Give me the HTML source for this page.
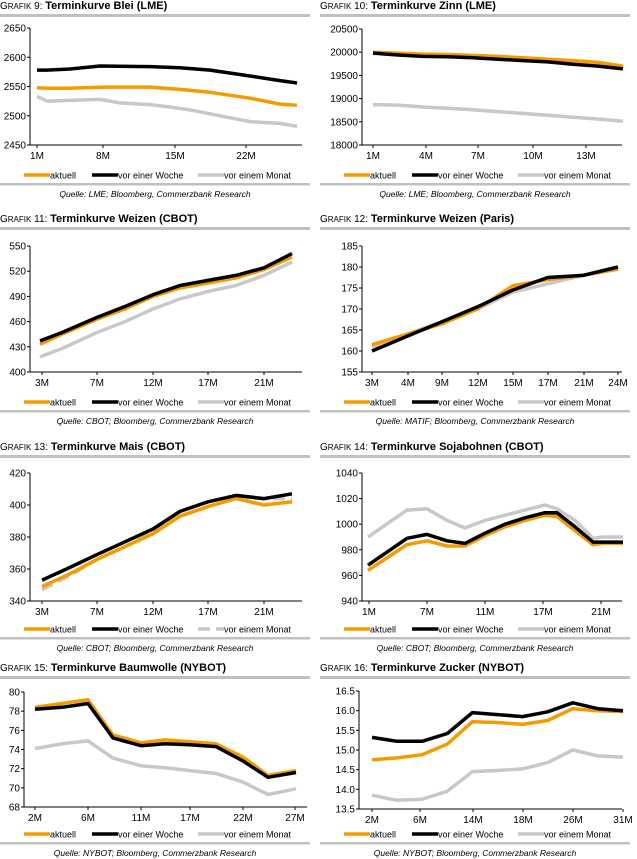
<!DOCTYPE html>
<html><head><meta charset="utf-8">
<style>
body{margin:0;background:#fff;width:637px;height:859px;overflow:hidden;font-family:"Liberation Sans",Arial,sans-serif}
svg{display:block}
</style></head><body>
<svg id="s" width="637" height="859" xmlns="http://www.w3.org/2000/svg" font-family="Liberation Sans, Arial, sans-serif"></svg>
<script>
const S=document.getElementById('s');let h='';
const OR='#f59b00',BK='#000',GR='#c8c8c8';
function chart(c){
 const X0=c.ox, top=c.oy;
 h+=`<text x="${X0}" y="${top+9}" font-size="10">G<tspan font-size="8">RAFIK</tspan> ${c.n}: <tspan font-weight="bold" font-size="11">${c.t}</tspan></text>`;
 h+=`<rect x="${X0}" y="${top+14}" width="310" height="3" fill="#c0c0c0"/>`;
 const ax=c.ax, y0=c.py0, y1=c.py1, xr=X0+(c.xr||302);
 const vy=v=>y1+(v-c.vmin)/(c.vmax-c.vmin)*(y0-y1);
 h+=`<line x1="${ax}" y1="${y0}" x2="${ax}" y2="${y1}" stroke="#000" stroke-width="1"/>`;
 h+=`<line x1="${ax}" y1="${y1}" x2="${xr}" y2="${y1}" stroke="#000" stroke-width="1"/>`;
 for(let v=c.vmin;v<=c.vmax+1e-9;v+=c.step){const y=vy(v);
  h+=`<line x1="${ax-3}" y1="${y}" x2="${ax}" y2="${y}" stroke="#000"/>`;
  h+=`<text x="${ax-4}" y="${y+3.5}" font-size="10" text-anchor="end">${c.fmt?c.fmt(v):v}</text>`;}
 c.xl.forEach(([x,l])=>{h+=`<line x1="${x}" y1="${y1}" x2="${x}" y2="${y1+3}" stroke="#000"/>`;
  h+=`<text x="${x}" y="${y1+14}" font-size="10" text-anchor="middle">${l}</text>`;});
 const ser=[[c.m,GR,c.dash],[c.a,OR],[c.w,BK]];
 ser.forEach(([d,col,da])=>{
  const pts=d.map((v,i)=>{const x=Array.isArray(v)?v[0]:c.xs[0]+i*(c.xs[1]-c.xs[0])/(d.length-1);const val=Array.isArray(v)?v[1]:v;return x.toFixed(1)+','+vy(val).toFixed(1)}).join(' ');
  h+=`<polyline points="${pts}" fill="none" stroke="${col}" stroke-width="3.5" stroke-linejoin="round" ${da?'stroke-dasharray="12,6"':''}/>`;});
 const ly=y1+(c.lg||29);
 const L=[[OR,'aktuell',X0+24],[BK,'vor einer Woche',X0+92],[GR,'vor einem Monat',X0+198]];
 L.forEach(([col,t,x],i)=>{h+=`<line x1="${x}" y1="${ly}" x2="${x+26}" y2="${ly}" stroke="${col}" stroke-width="3.5" ${(i==2&&c.dash)?'stroke-dasharray="12,6"':''}/>`;
  h+=`<text x="${x+26}" y="${ly+3.5}" font-size="9">${t}</text>`;});
 h+=`<rect x="${X0}" y="${ly+8}" width="310" height="2.5" fill="#c0c0c0"/>`;
 h+=`<text x="${X0+155}" y="${ly+22}" font-size="8.5" font-style="italic" text-anchor="middle">${c.src}</text>`;
}
const src=q=>`Quelle: ${q}; Bloomberg, Commerzbank Research`;
chart({ox:0,oy:0,n:9,t:'Terminkurve Blei (LME)',ax:30,py0:28,py1:145,vmin:2450,vmax:2650,step:50,lg:30,
 xl:[[37,'1M'],[103,'8M'],[175,'15M'],[246,'22M']],xs:[37,297],src:src('LME'),
 a:[[37,2548],[47,2547],[67,2547],[105,2549],[150,2549],[180,2545],[210,2540],[250,2530],[280,2520],[297,2518]],
 w:[[37,2578],[47,2578],[70,2580],[100,2585],[150,2584],[180,2582],[210,2578],[250,2568],[280,2560],[297,2556]],
 m:[[37,2533],[47,2525],[80,2527],[100,2528],[120,2522],[150,2519],[170,2515],[190,2510],[220,2500],[250,2490],[280,2487],[297,2482]]});
chart({ox:320,oy:0,n:10,t:'Terminkurve Zinn (LME)',ax:362,py0:29,py1:145,vmin:18000,vmax:20500,step:500,lg:30,
 xl:[[373,'1M'],[426,'4M'],[478,'7M'],[533,'10M'],[586,'13M']],xs:[373,623],src:src('LME'),
 a:[20000,19980,19960,19950,19930,19910,19880,19850,19820,19780,19700],
 w:[19980,19940,19910,19900,19880,19850,19820,19790,19740,19700,19640],
 m:[18870,18860,18820,18790,18760,18720,18680,18640,18600,18560,18510]});
chart({ox:0,oy:213,n:11,t:'Terminkurve Weizen (CBOT)',ax:30,py0:246,py1:372,vmin:400,vmax:550,step:30,lg:30,
 xl:[[42,'3M'],[97,'7M'],[153,'12M'],[208,'17M'],[264,'21M']],src:src('CBOT'),
 a:[[40,433],[62,445],[97,463],[125,475],[153,490],[180,500],[208,506],[236,512],[264,522],[292,537]],
 w:[[40,437],[62,447],[97,465],[125,478],[153,492],[180,503],[208,509],[236,515],[264,524],[292,541]],
 m:[[40,418],[62,428],[97,447],[125,460],[153,475],[180,487],[208,496],[236,503],[264,515],[292,531]]});
chart({ox:320,oy:213,n:12,t:'Terminkurve Weizen (Paris)',ax:362,py0:246,py1:372,vmin:155,vmax:185,step:5,lg:30,
 xl:[[372,'3M'],[408,'4M'],[442,'9M'],[478,'12M'],[513,'15M'],[548,'17M'],[584,'21M'],[618,'24M']],xs:[372,618],src:'Quelle: MATIF; Bloomberg, Commerzbank Research',
 a:[161.5,164,166.5,170,175.5,177,178,179.5],w:[160,163.5,167,170.5,174.5,177.5,178,180],m:[161,164,167,170,174,176,178,180]});
chart({ox:0,oy:441,n:13,t:'Terminkurve Mais (CBOT)',ax:30,py0:473,py1:601,vmin:340,vmax:420,step:20,dash:true,lg:28,
 xl:[[42,'3M'],[97,'7M'],[153,'12M'],[208,'17M'],[264,'21M']],src:src('CBOT'),
 a:[[42,349],[70,357],[97,366],[125,374],[153,382],[180,393],[208,399],[236,404],[264,400],[292,402]],
 w:[[42,353],[70,361],[97,369],[125,377],[153,385],[180,396],[208,402],[236,406],[264,404],[292,407]],
 m:[[42,347],[70,356],[97,366],[125,374],[153,383],[180,393],[208,399],[236,404],[264,404],[292,404]]});
const sx=[368,407,427,447,465,485,505,525,545,557,575,593,603,623];
const z=(a)=>a.map((v,i)=>[sx[i],v]);
chart({ox:320,oy:441,n:14,t:'Terminkurve Sojabohnen (CBOT)',ax:362,py0:473,py1:601,vmin:940,vmax:1040,step:20,lg:28,
 xl:[[369,'1M'],[427,'7M'],[485,'11M'],[543,'17M'],[601,'21M']],src:src('CBOT'),
 a:z([964,984,987,983,983,991,998,1003,1007,1006,995,984,985,985]),
 w:z([968,989,992,987,985,993,1000,1005,1009,1009,998,986,986,986]),
 m:z([990,1011,1012,1003,997,1003,1007,1011,1015,1012,1003,989,990,990])});
function z2(a){const xs=[35,62,88,113,141,165,190,216,243,268,296];return a.map((v,i)=>[xs[i],v]);}
chart({ox:0,oy:662,n:15,t:'Terminkurve Baumwolle (NYBOT)',ax:24,py0:692,py1:807,vmin:68,vmax:80,step:2,lg:27,xr:307,
 xl:[[35,'2M'],[88,'6M'],[141,'11M'],[190,'17M'],[243,'22M'],[295,'27M']],src:src('NYBOT'),
 a:z2([78.4,78.8,79.2,75.5,74.7,75,74.8,74.6,73.2,71.3,71.8]),
 w:z2([78.2,78.4,78.8,75.2,74.4,74.6,74.5,74.3,72.8,71.1,71.6]),
 m:z2([74.1,74.6,74.9,73.1,72.3,72.1,71.8,71.5,70.6,69.3,69.9])});
chart({ox:320,oy:662,n:16,t:'Terminkurve Zucker (NYBOT)',ax:359,py0:691,py1:809,vmin:13.5,vmax:16.5,step:0.5,fmt:v=>v.toFixed(1),lg:25,
 xl:[[372,'2M'],[420,'6M'],[473,'14M'],[523,'18M'],[573,'26M'],[623,'31M']],xs:[372,623],src:src('NYBOT'),
 a:[14.75,14.8,14.88,15.15,15.72,15.7,15.65,15.75,16.05,16.0,15.98],
 w:[15.32,15.22,15.22,15.42,15.95,15.9,15.85,15.97,16.2,16.05,16.0],
 m:[13.85,13.72,13.75,13.95,14.45,14.48,14.52,14.68,15.0,14.85,14.82]});
S.innerHTML=h;
</script>
</body></html>
